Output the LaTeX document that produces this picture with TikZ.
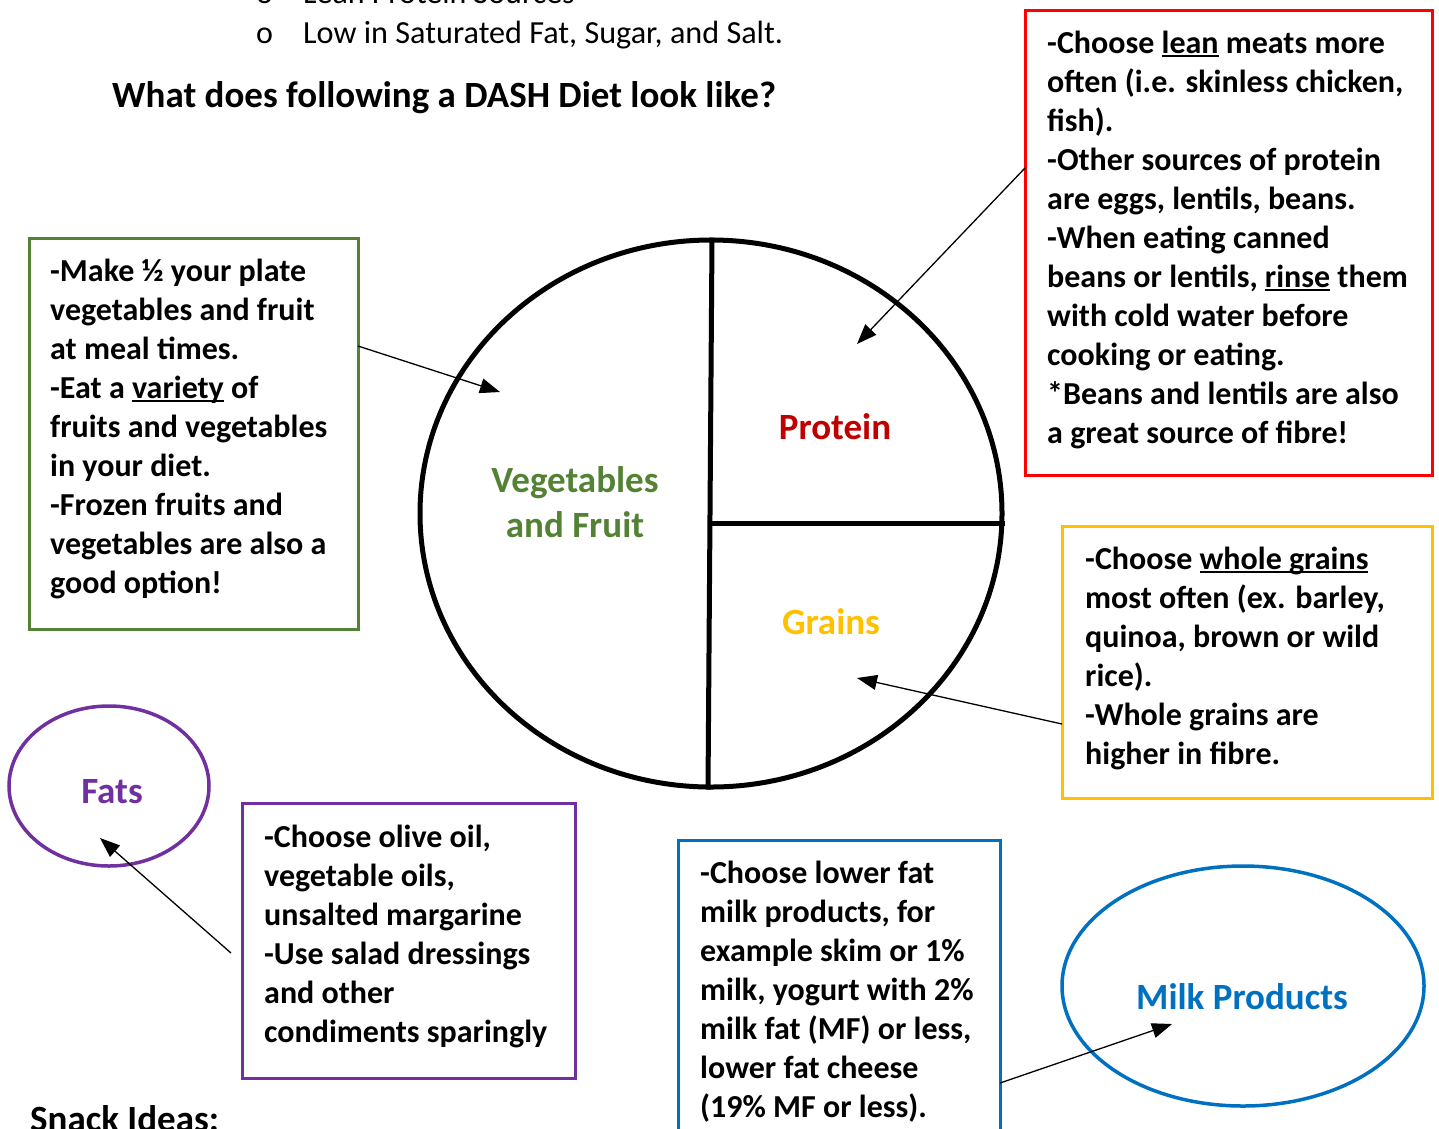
\documentclass[tikz,border=0pt]{standalone}
\usepackage{fontspec}
\setmainfont{Carlito}
\usetikzlibrary{shapes.geometric,arrows.meta}
\definecolor{dgreen}{HTML}{548235}
\definecolor{dred}{HTML}{C00000}
\definecolor{bred}{HTML}{FF0000}
\definecolor{gold}{HTML}{FFC000}
\definecolor{purp}{HTML}{7030A0}
\definecolor{mblue}{HTML}{0070C0}
\newcommand\myul[1]{{\setbox0\hbox{#1}\rlap{\rule[-4pt]{\wd0}{2.2pt}}\box0}}
\newcommand\fstrut{\rule{0pt}{26pt}}
\begin{document}
\begin{tikzpicture}[x=1pt,y=-1pt,
 boxtxt/.style={anchor=north west, inner sep=0, align=left, font=\bfseries\fontsize{32}{39}\selectfont},
 frame/.style={draw=#1, line width=3pt, anchor=north west, inner sep=0, outer sep=0},
 arr/.style={line width=1.3pt, -{Triangle[length=20pt,width=15pt]}},
 lbl/.style={font=\bfseries\fontsize{37}{45}\selectfont, anchor=base, inner sep=0, align=center},
 plain/.style={font=\fontsize{32}{39}\selectfont, anchor=base west, inner sep=0},
 oval/.style={ellipse, draw=#1, line width=3.5pt, inner sep=0}]
\useasboundingbox (0,0) rectangle (1439,1128);
% top text
\node[plain] (b1) at (256,3) {o};
\node[plain] (t1) at (303,3) {Lean Protein Sources};
\node[plain] (b2) at (256,43) {o};
\node[plain, font=\fontsize{32.2}{39}\selectfont] (t2) at (303,43) {Low in Saturated Fat, Sugar, and Salt.};
\node[font=\bfseries\fontsize{37}{45}\selectfont, anchor=base west, inner sep=0] (title) at (112,107) {What does following a DASH Diet look like?};
\node[font=\bfseries\fontsize{37}{45}\selectfont, anchor=base west, inner sep=0] (snack) at (30,1131) {Snack Ideas:};
% plate
\node[ellipse, draw, line width=5pt, minimum width=582pt, minimum height=547pt, inner sep=0] (plate) at (711,513.5) {};
\draw[line width=5pt] ([xshift=1pt]plate.north) -- ([xshift=-3pt]plate.south);
\draw[line width=5pt] ([yshift=-9.5pt]plate.center) -- ([yshift=-9.5pt]plate.east);
\node[lbl, text=dred] (prot) at (835,439) {Protein};
\node[lbl, text=dgreen] (veg) at (575,537) {Vegetables\\and Fruit};
\node[lbl, text=gold] (grain) at (831,634) {Grains};
% green box
\node[frame=dgreen, minimum width=329pt, minimum height=391pt] (gbox) at (29,238) {};
\node[boxtxt] (gtxt) at (50,255) {\fstrut-Make ½ your plate\\vegetables and fruit\\at meal times.\\-Eat a \myul{variety} of\\fruits and vegetables\\in your diet.\\-Frozen fruits and\\vegetables are also a\\good option!};
% red box
\node[frame=bred, minimum width=407pt, minimum height=465pt] (rbox) at (1025,10) {};
\node[boxtxt] (rtxt) at (1047,27) {\fstrut-Choose \myul{lean} meats more\\often (i.e. skinless chicken,\\fish).\\-Other sources of protein\\are eggs, lentils, beans.\\-When eating canned\\beans or lentils, \myul{rinse} them\\with cold water before\\cooking or eating.\\*Beans and lentils are also\\a great source of fibre!};
% yellow box
\node[frame=gold, minimum width=370pt, minimum height=272pt] (ybox) at (1062,526) {};
\node[boxtxt] (ytxt) at (1085,543) {\fstrut-Choose \myul{whole grains}\\most often (ex. barley,\\quinoa, brown or wild\\rice).\\-Whole grains are\\higher in fibre.};
% purple box
\node[frame=purp, minimum width=333pt, minimum height=275pt] (pbox) at (242,803) {};
\node[boxtxt] (ptxt) at (264,821) {\fstrut-Choose olive oil,\\vegetable oils,\\unsalted margarine\\-Use salad dressings\\and other\\condiments sparingly};
% blue box
\node[frame=mblue, minimum width=322pt, minimum height=300pt] (bbox) at (678,840) {};
\node[boxtxt] (btxt) at (700,857) {\fstrut-Choose lower fat\\milk products, for\\example skim or 1\%\\milk, yogurt with 2\%\\milk fat (MF) or less,\\lower fat cheese\\(19\% MF or less).};
% ovals
\node[oval=purp, minimum width=200pt, minimum height=160pt] (fats) at (109,786) {};
\node[lbl, text=purp] (fatslbl) at (112,803) {Fats};
\node[oval=mblue, minimum width=362pt, minimum height=240pt] (milk) at (1243,986) {};
\node[lbl, text=mblue] (milklbl) at (1242,1009) {Milk Products};
% arrow tips
\coordinate (gtip) at (500,392);
\coordinate (rtip) at (857,344);
\coordinate (ytip) at (857,678);
\coordinate (ptip) at (100,838);
\coordinate (btip) at (1172,1024);
\draw[arr] ([yshift=87.5pt]gbox.east) -- (gtip);
\draw[arr] ([yshift=74.5pt]rbox.west) -- (rtip);
\draw[arr] ([yshift=-62pt]ybox.west) -- (ytip);
\draw[arr] ([xshift=-11pt,yshift=-12.5pt]pbox.west) -- (ptip);
\draw[arr] ([yshift=-93pt]bbox.east) -- (btip);
\end{tikzpicture}
\end{document}
